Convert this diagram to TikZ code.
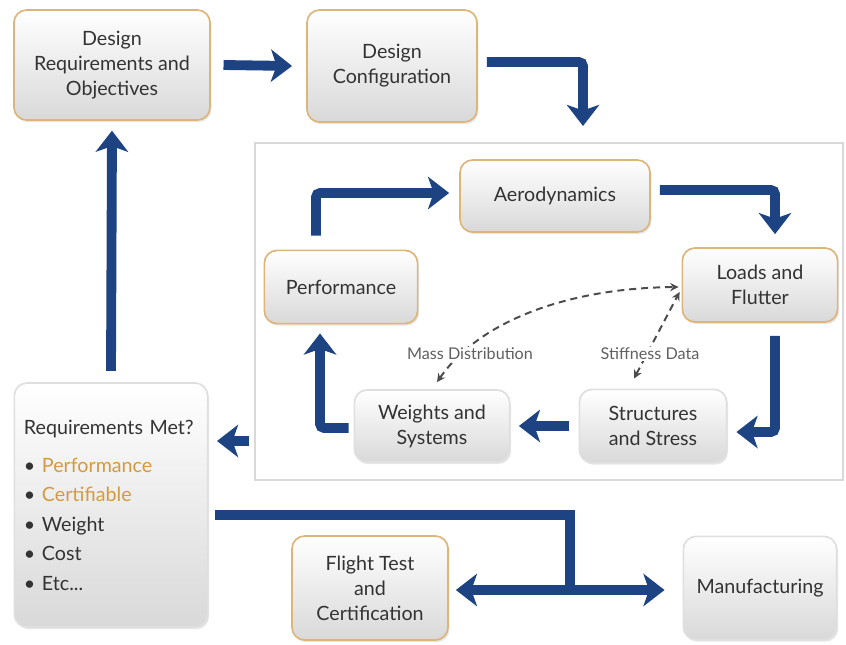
\documentclass[tikz,border=0pt]{standalone}
\usepackage{fontspec}
\setmainfont{Lato}
\usetikzlibrary{arrows.meta,shadows}
\definecolor{navy}{HTML}{1D4382}
\definecolor{tan}{HTML}{DDB57A}
\definecolor{ink}{HTML}{333333}
\definecolor{gold}{HTML}{D59A3F}
\tikzset{
  box/.style={draw=tan, line width=1.2pt, rounded corners=9pt, top color=white,
    bottom color=gray!30, text=ink, align=center,
    font=\fontsize{14}{17.8}\selectfont,
    drop shadow={opacity=0.2, shadow xshift=1pt, shadow yshift=-1.5pt}},
  greybox/.style={box, draw=gray!25},
  flow/.style={draw=navy, line width=7pt, rounded corners=3pt,
    -{Stealth[length=15pt,width=23pt,inset=4pt]}},
  data/.style={draw=gray!60!black, line width=1.4pt, dash pattern=on 5pt off 3.5pt,
    {Stealth[length=6pt,width=6pt]}-{Stealth[length=6pt,width=6pt]}},
  tag/.style={fill=white, text=gray!75!black, font=\fontsize{11.5}{13}\selectfont, inner sep=1pt}
}
\begin{document}
\begin{tikzpicture}[x=0.025cm, y=-0.025cm]
      \useasboundingbox (0,0) rectangle (846,644);
      \draw[gray!30, line width=0.8pt] (255,143) rectangle (843,480);
      \node[box, minimum width=4.9cm, minimum height=2.75cm] (dro) at (112,65)
        {Design\\Requirements and\\Objectives};
      \node[box, minimum width=4.25cm, minimum height=2.8cm] (cfg) at (392,66)
        {Design\\Configuration};
      \node[box, minimum width=4.75cm, minimum height=1.8cm] (aero) at (555,196) {Aerodynamics};
      \node[box, minimum width=3.83cm, minimum height=1.83cm] (perf) at (341,287) {Performance};
      \node[box, minimum width=3.88cm, minimum height=1.85cm] (loads) at (760,285) {Loads and\\Flutter};
      \node[greybox, minimum width=3.88cm, minimum height=1.8cm] (wts) at (432,426) {Weights and\\Systems};
      \node[greybox, minimum width=3.68cm, minimum height=1.83cm] (str) at (653,426) {Structures\\and Stress};
      \node[greybox, align=left, text width=4.35cm, inner xsep=0.24cm, minimum height=6.1cm,
        font=\fontsize{14}{21}\selectfont] (req) at (111,505)
        {\mbox{Requirements Met?}\\[6pt]
         \textbullet\ \textcolor{gold}{Performance}\\
         \textbullet\ \textcolor{gold}{Certifiable}\\
         \textbullet\ Weight\\
         \textbullet\ Cost\\
         \textbullet\ Etc...};
      \node[box, minimum width=3.9cm, minimum height=2.6cm] (flt) at (370,588)
        {Flight Test\\and\\Certification};
      \node[greybox, minimum width=3.83cm, minimum height=2.58cm] (mfg) at (760,588) {Manufacturing};
      \coordinate (fin) at (583,126);
      \coordinate (fb) at (249,441);
      \coordinate (fe) at (217,441);
      \coordinate (hub) at (570,590);
      \begin{scope}
        \draw[flow] ([xshift=9pt]dro.east) -- ([xshift=-10pt]cfg.west);
        \draw[flow] ([shift={(9,-4)}]cfg.east) -| (fin);
        \draw[flow] ([shift={(-25,-14)}]perf.north) |- ([shift={(-10,-3)}]aero.west);
        \draw[flow] ([shift={(9,-6)}]aero.east) -| ([shift={(15,-13)}]loads.north);
        \draw[flow] ([shift={(15,13)}]loads.south) |- ([shift={(9,6)}]str.east);
        \draw[flow] ([xshift=-7pt]str.west) -- ([xshift=6pt]wts.east);
        \draw[flow] ([shift={(-5,2)}]wts.west) -| ([shift={(-21,9)}]perf.south);
        \draw[flow] (fb) -- (fe);
        \draw[flow] ([yshift=8pt]req.north) -- ([yshift=-7pt]dro.south);
        \draw[navy, line width=7pt] ([shift={(7,10)}]req.east) -| (hub);
        \draw[flow, {Stealth[length=15pt,width=23pt,inset=4pt]}-{Stealth[length=15pt,width=23pt,inset=4pt]}]
          ([shift={(7,2)}]flt.east) -- ([shift={(-18,2)}]mfg.west);
      \end{scope}
      \draw[data] ([shift={(5,-7)}]wts.north) .. controls (480,320) and (570,288) .. ([shift={(-3,2)}]loads.west);
      \draw[data] ([shift={(-19,-10)}]str.north) -- ([shift={(-2,7)}]loads.west);
      \node[tag] (mass) at (470,354) {Mass Distribution};
      \node[tag] (stiff) at (650,354) {Stiffness Data};
    \end{tikzpicture}
\end{document}
